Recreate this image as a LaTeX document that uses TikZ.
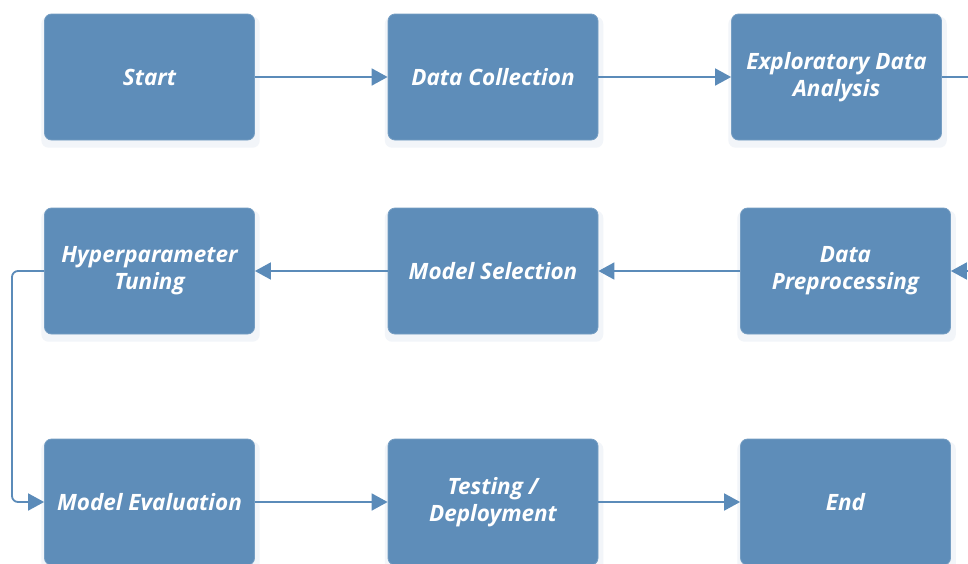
\documentclass[tikz,border=0pt]{standalone}
\usepackage{fontspec}
\setmainfont{Open Sans}
\usepackage{tikz}
\usetikzlibrary{arrows.meta,shadows}
\definecolor{boxblue}{HTML}{5E8DB9}
\definecolor{lineblue}{HTML}{5B8BB9}
\definecolor{shadowgray}{HTML}{F2F5F9}

\begin{document}
\begin{tikzpicture}[x=1pt,y=-1pt]
		\tikzstyle{stage}=[draw=boxblue!85!white,line width=0.8pt,fill=boxblue,rectangle,rounded corners=7pt,text=white,align=center,font=\fontsize{22.5}{27}\selectfont\bfseries\itshape,minimum width=210pt,minimum height=126pt,inner sep=0pt,drop shadow={shadow xshift=1pt,shadow yshift=-5pt,shadow scale=1.04,fill=shadowgray,opacity=1}]
		\tikzstyle{flow}=[draw=lineblue,line width=1.8pt,-{Triangle[length=16pt,width=17pt]}]
		
		\clip (0,0) rectangle (968,563);
		\fill[white] (0,0) rectangle (968,563);
		
		\node[stage] (start) at (149.5,77) {Start};
		\node[stage] (collect) at (493,77) {Data Collection};
		\node[stage] (eda) at (836.5,77) {Exploratory Data\\Analysis};
		
		\node[stage] (tune) at (149.5,271) {Hyperparameter\\Tuning};
		\node[stage] (select) at (493,271) {Model Selection};
		\node[stage] (prep) at (845.5,271) {Data\\Preprocessing};
		
		\node[stage] (eval) at (149.5,502) {Model Evaluation};
		\node[stage] (deploy) at (493,502) {Testing /\\Deployment};
		\node[stage] (finish) at (845.5,502) {End};
		
		% connector leaving and coming back past the right edge
		\coordinate (outA) at (990,77);
		\coordinate (outB) at (990,271);
		
		\draw[flow] (start) -- (collect);
		\draw[flow] (collect) -- (eda);
		\draw[flow,-] (eda) -- (outA);
		\draw[flow] (outB) -- (prep);
		\draw[flow] (prep) -- (select);
		\draw[flow] (select) -- (tune);
		\draw[flow,rounded corners=6pt] (tune.west) -- (12,271) -- (12,502) -- (eval.west);
		\draw[flow] (eval) -- (deploy);
		\draw[flow] (deploy) -- (finish);
		
		\end{tikzpicture}
\end{document}
